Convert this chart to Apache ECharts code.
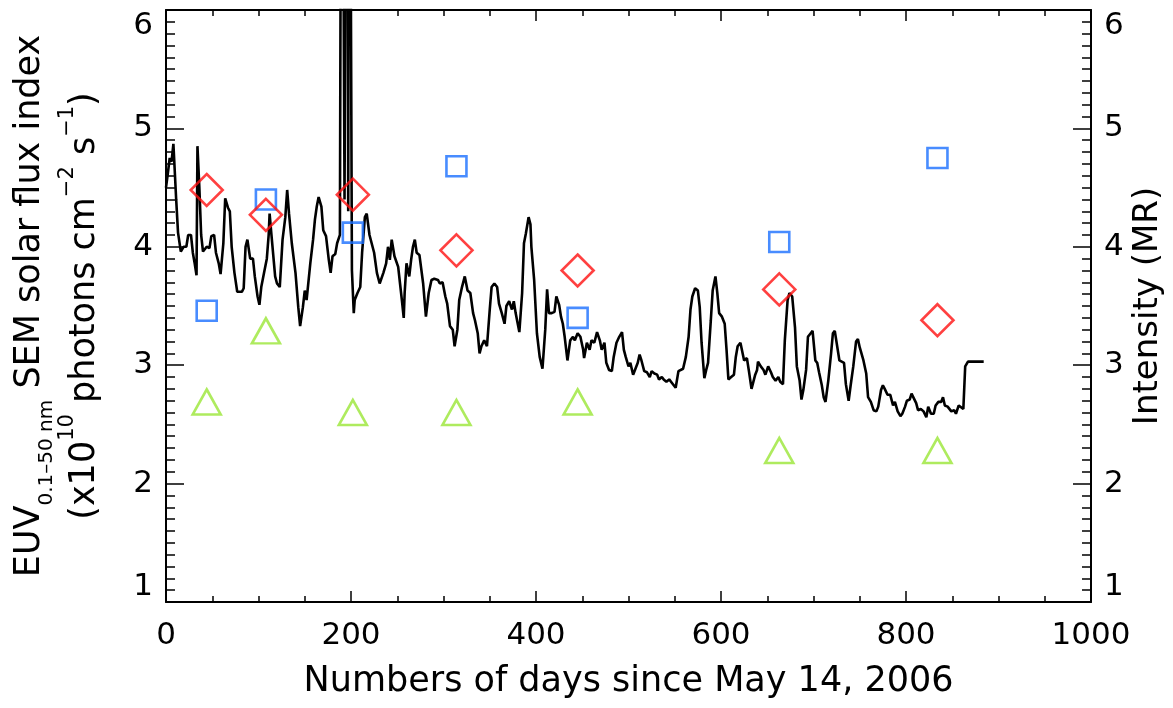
<!DOCTYPE html>
<html><head><meta charset="utf-8">
<script src="https://cdn.jsdelivr.net/npm/echarts@6/dist/echarts.min.js"></script>
<style>html,body{margin:0;padding:0;background:#fff}#c{width:1173px;height:708px}</style>
</head><body><div id="c"></div>
<script>
// Daily EUV flux (SEM) – day index and value
const lineDays = [0,2,4,6,8,11,13,16,19,22,24,27,29,31,33,34,36,38,40,44,47,49,52,54,57,59,62,64,67,69,71,74,77,82,84,86,88,91,94,96,99,101,103,106,109,111,112,114,118,120,123,126,129,131,133,136,140,143,145,148,150,152,156,159,161,163,165,168,170,173,176,178,180,183,185,188,
190,191,193,196,197,198,199,200,201,203,204,207,210,212,215,217,220,222,225,228,231,235,238,240,242,244,247,248,251,253,255,257,258,260,263,265,267,269,271,274,276,278,281,284,287,290,294,
296,299,302,304,307,310,312,315,317,320,323,326,329,332,334,337,339,341,344,347,350,352,355,358,360,363,366,368,371,374,376,378,382,385,387,389,392,394,395,398,401,404,407,410,412,414,417,420,422,425,427,429,431,434,437,440,442,445,448,451,452,455,458,460,463,466,469,471,474,476,479,482,484,487,490,493,495,497,500,502,505,507,510,512,514,517,520,523,525,528,531,533,536,538,541,544,547,549,551,554,556,559,562,565,567,569,572,575,577,579,582,584,586,589,591,594,596,598,601,604,606,608,611,614,616,618,621,
622,625,628,630,633,635,637,639,640,643,646,648,651,654,656,659,662,664,667,669,672,674,677,680,682,685,687,689,692,694,697,699,702,704,706,709,711,713,716,719,721,723,725,728,730,733,735,738,740,743,746,748,750,754,757,759,762,765,768,770,773,775,777,780,783,786,788,791,794,796,799,801,804,806,808,811,813,816,819,822,824,827,830,832,835,838,840,842,845,847,849,852,854,857,859,862,864,866,867,884];
const lineFlux = [4.50,4.62,4.75,4.72,4.87,4.40,4.12,3.96,4.00,4.00,4.10,4.10,3.95,3.86,3.76,4.85,4.51,4.10,3.96,4.00,3.99,4.09,4.10,3.95,3.86,3.77,4.03,4.41,4.33,4.30,4.00,3.78,3.62,3.62,3.65,4.00,4.06,3.90,3.90,3.75,3.58,3.51,3.66,3.78,3.90,4.10,4.28,4.10,3.75,3.69,3.66,4.06,4.25,4.48,4.28,4.03,3.78,3.49,3.33,3.49,3.63,3.55,3.86,4.06,4.23,4.34,4.42,4.34,4.14,4.09,3.89,3.78,3.92,3.94,4.03,4.10,
10,10,4.4,10,4.3,10,10,10,3.8,3.44,3.55,3.61,3.66,3.95,4.25,4.28,4.10,4.10,3.95,3.78,3.69,3.78,3.86,4.00,3.89,4.06,3.92,3.93,3.83,3.69,3.55,3.40,3.61,3.86,3.75,3.89,4.00,4.06,3.95,3.93,3.92,3.69,3.41,3.61,3.72,3.73,3.72,
3.69,3.70,3.58,3.52,3.33,3.30,3.16,3.30,3.55,3.66,3.75,3.63,3.61,3.44,3.38,3.27,3.10,3.16,3.21,3.16,3.47,3.66,3.69,3.66,3.52,3.44,3.35,3.50,3.54,3.47,3.54,3.44,3.28,3.61,4.03,4.11,4.25,4.19,4.00,3.72,3.27,3.07,2.97,3.30,3.64,3.44,3.44,3.45,3.58,3.51,3.41,3.35,3.24,3.04,3.21,3.24,3.21,3.27,3.24,3.13,3.06,3.19,3.13,3.21,3.19,3.28,3.21,3.13,3.19,3.02,2.96,2.95,3.07,3.19,3.24,3.28,3.13,3.07,2.99,3.02,2.92,2.96,3.02,3.09,3.04,2.95,2.94,2.90,2.95,2.93,2.92,2.88,2.90,2.88,2.86,2.88,2.85,2.84,2.81,2.95,2.96,2.97,3.07,3.24,3.47,3.58,3.65,3.63,3.49,3.19,2.89,2.96,3.02,3.38,3.63,3.75,3.61,3.44,3.41,3.35,3.13,2.88,2.90,2.92,3.07,3.16,3.19,
3.18,3.04,3.06,2.96,2.80,2.79,2.92,2.96,3.03,2.99,2.96,2.92,2.99,2.94,2.90,2.87,2.90,2.86,2.84,3.21,3.55,3.61,3.58,3.32,2.99,2.87,2.71,2.79,2.96,3.24,3.27,3.29,3.04,3.02,2.94,2.83,2.73,2.69,2.87,3.10,3.27,3.29,3.30,3.04,3.03,3.02,2.84,2.70,2.82,2.99,3.20,3.22,3.15,3.04,2.93,2.73,2.69,2.62,2.61,2.65,2.79,2.83,2.80,2.75,2.75,2.66,2.69,2.61,2.57,2.59,2.65,2.70,2.71,2.76,2.77,2.68,2.62,2.63,2.61,2.56,2.65,2.59,2.59,2.66,2.69,2.69,2.73,2.66,2.65,2.65,2.61,2.62,2.59,2.66,2.65,2.63,2.99,3.00,3.03,3.03];

// Observation days and intensities (MR)
const obsDays   = [44, 108, 202, 314, 445, 663, 834];
const squares   = [3.46, 4.40, 4.12, 4.68, 3.40, 4.04, 4.75];
const diamonds  = [4.48, 4.27, 4.44, 3.97, 3.80, 3.64, 3.38];
const triangles = [2.69, 3.29, 2.60, 2.60, 2.69, 2.28, 2.28];

const xTicks = [0, 200, 400, 600, 800, 1000];
const yTicks = [1, 2, 3, 4, 5, 6];

const FONT = 'DejaVu Sans';
const zip = (a, b) => a.map((v, i) => [v, b[i]]);

const tickStyle = { color: '#000', width: 1.5 };
const axisLineStyle = { color: '#000', width: 2 };

function xAx(pos, showLabel) {
  return {
    type: 'value', position: pos, min: xTicks[0], max: xTicks[xTicks.length - 1], interval: 200,
    axisLine: { show: true, onZero: false, lineStyle: axisLineStyle },
    axisTick: { show: true, inside: true, length: 11, lineStyle: tickStyle },
    minorTick: { show: true, splitNumber: 4, length: 6, lineStyle: tickStyle },
    splitLine: { show: false },
    axisLabel: { show: showLabel, color: '#000', fontSize: 31, fontFamily: FONT, margin: 18,
      formatter: (v) => String(v) },
    axisPointer: { show: false }
  };
}
function yAx(pos) {
  return {
    type: 'value', position: pos, min: yTicks[0], max: yTicks[yTicks.length - 1], interval: 1,
    axisLine: { show: true, onZero: false, lineStyle: axisLineStyle },
    axisTick: { show: true, inside: true, length: 18, lineStyle: tickStyle },
    minorTick: { show: true, splitNumber: 10, length: 9, lineStyle: tickStyle },
    splitLine: { show: false },
    axisLabel: { show: true, color: '#000', fontSize: 31, fontFamily: FONT, margin: 13,
      verticalAlignMinLabel: 'bottom', verticalAlignMaxLabel: 'top', formatter: (v) => String(v) },
    axisPointer: { show: false }
  };
}

const xBottom = Object.assign(xAx('bottom', true), {
  name: 'Numbers of days since May 14, 2006', nameLocation: 'middle', nameGap: 62,
  nameTextStyle: { color: '#000', fontSize: 35, fontFamily: FONT }
});
const xTop = xAx('top', false);

const yLeft = Object.assign(yAx('left'), {
  name: '{a|EUV}{sub|0.1\u201350 nm}{a| SEM solar flux index}\n{a|(x10}{sup|10}{a| photons cm}{sup|\u22122}{a| s}{sup|\u22121}{a|)}',
  nameLocation: 'middle', nameRotate: 90, nameGap: 54, nameMoveOverlap: false,
  nameTextStyle: {
    color: '#000', fontSize: 35, fontFamily: FONT, lineHeight: 55, align: 'center',
    rich: {
      a: { color: '#000', fontSize: 35, fontFamily: FONT, lineHeight: 55 },
      sub: { color: '#000', fontSize: 20, fontFamily: FONT, lineHeight: 30, verticalAlign: 'bottom' },
      sup: { color: '#000', fontSize: 21, fontFamily: FONT, lineHeight: 30, verticalAlign: 'top' }
    }
  }
});
const yRight = Object.assign(yAx('right'), {
  name: 'Intensity (MR)', nameLocation: 'middle', nameRotate: 90, nameGap: 40, nameMoveOverlap: false,
  nameTextStyle: { color: '#000', fontSize: 34, fontFamily: FONT }
});

const hollow = (c) => ({ color: 'rgba(0,0,0,0)', borderColor: c, borderWidth: 2.6 });

const chart = echarts.init(document.getElementById('c'), null, { renderer: 'canvas' });
chart.setOption({
  animation: false,
  backgroundColor: '#fff',
  textStyle: { fontFamily: FONT },
  grid: { left: 166, right: 82, top: 10, bottom: 106, outerBoundsMode: 'none', containLabel: false },
  xAxis: [xBottom, xTop],
  yAxis: [yLeft, yRight],
  series: [
    { type: 'line', xAxisIndex: 0, yAxisIndex: 0, data: zip(lineDays, lineFlux), showSymbol: false,
      clip: true, lineStyle: { color: '#000', width: 2.6 }, z: 2 },
    { type: 'scatter', xAxisIndex: 0, yAxisIndex: 1, data: zip(obsDays, squares), symbol: 'rect',
      symbolSize: 20, itemStyle: hollow('#1a6fff'), z: 3 },
    { type: 'scatter', xAxisIndex: 0, yAxisIndex: 1, data: zip(obsDays, diamonds), symbol: 'diamond',
      symbolSize: [32, 32], itemStyle: hollow('#ff1010'), z: 3 },
    { type: 'scatter', xAxisIndex: 0, yAxisIndex: 1, data: zip(obsDays, triangles), symbol: 'triangle',
      symbolSize: [28, 25], itemStyle: hollow('#9ae636'), z: 3 }
  ]
});
</script></body></html>
